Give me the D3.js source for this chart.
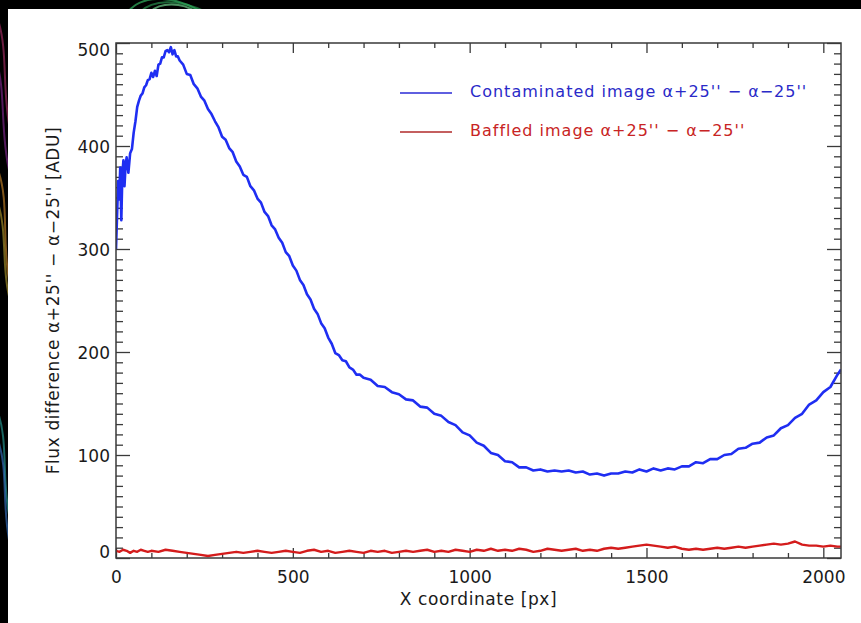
<!DOCTYPE html>
<html>
<head>
<meta charset="utf-8">
<script src="https://cdn.jsdelivr.net/npm/d3@7"></script>
<style>
  html, body { margin: 0; padding: 0; background: #000; }
  svg { display: block; }
  text { font-family: "DejaVu Sans", sans-serif; }
</style>
</head>
<body>
<svg id="chart" width="861" height="623"></svg>
<script>
// Column position along the detector row [px]
const contaminatedX = [
  0, 3, 6, 9, 12, 15, 18, 21, 24, 27, 30, 35, 40, 45, 50, 55, 60, 65, 70, 75,
  80, 85, 90, 95, 100, 105, 110, 115, 120, 125, 130, 135, 140, 145, 150, 155, 160, 165, 170, 175,
  180, 190, 200, 210, 220, 230, 240, 250, 260, 270, 280, 290, 300, 310, 320, 330, 340, 350, 360, 370,
  380, 390, 400, 410, 420, 430, 440, 450, 460, 470, 480, 490, 500, 510, 520, 530, 540, 550, 560, 570,
  580, 590, 600, 610, 620, 630, 640, 650, 660, 670, 680, 690, 700, 720, 740, 760, 780, 800, 820, 840,
  860, 880, 900, 920, 940, 960, 980, 1000, 1020, 1040, 1060, 1080, 1100, 1120, 1140, 1160, 1180, 1200, 1220, 1240,
  1260, 1280, 1300, 1320, 1340, 1360, 1380, 1400, 1420, 1440, 1460, 1480, 1500, 1520, 1540, 1560, 1580, 1600, 1620, 1640,
  1660, 1680, 1700, 1720, 1740, 1760, 1780, 1800, 1820, 1840, 1860, 1880, 1900, 1920, 1940, 1960, 1980, 2000, 2020, 2040, 2050
];
// Contaminated image, flux difference [ADU]
const contaminatedFlux = [
  300, 332, 366, 348, 379, 328, 373, 386, 361, 381, 389, 374, 393, 397, 413, 424, 438, 444, 449, 451,
  457, 459, 464, 465, 471, 467, 473, 468, 479, 480, 486, 486, 492, 493, 491, 496, 489, 493, 487, 487,
  483, 479, 470, 469, 460, 456, 448, 444, 436, 431, 424, 418, 409, 406, 398, 394, 385, 380, 372, 370,
  361, 357, 349, 345, 336, 332, 323, 319, 311, 306, 297, 293, 284, 279, 270, 265, 256, 251, 242, 237,
  228, 223, 214, 208, 199, 197, 192, 191, 185, 183, 178, 178, 175, 173, 167, 166, 161, 159, 154, 153,
  147, 146, 140, 138, 132, 129, 122, 119, 112, 109, 102, 100, 94, 93, 88, 88, 85, 86, 84, 85,
  84, 85, 83, 84, 81, 82, 80, 82, 82, 84, 83, 86, 84, 87, 85, 87, 86, 89, 89, 93,
  92, 96, 96, 100, 101, 106, 107, 111, 112, 117, 119, 126, 129, 136, 140, 149, 153, 161, 166, 178, 183
];

const baffledX = [
  0, 10, 20, 30, 40, 50, 60, 70, 80, 90, 100, 120, 140, 160, 180, 200, 220, 240, 260, 280,
  300, 320, 340, 360, 380, 400, 420, 440, 460, 480, 500, 520, 540, 560, 580, 600, 620, 640, 660, 680,
  700, 720, 740, 760, 780, 800, 820, 840, 860, 880, 900, 920, 940, 960, 980, 1000, 1020, 1040, 1060, 1080,
  1100, 1120, 1140, 1160, 1180, 1200, 1220, 1240, 1260, 1280, 1300, 1320, 1340, 1360, 1380, 1400, 1420, 1440, 1460, 1480,
  1500, 1520, 1540, 1560, 1580, 1600, 1620, 1640, 1660, 1680, 1700, 1720, 1740, 1760, 1780, 1800, 1820, 1840, 1860, 1880,
  1900, 1920, 1940, 1960, 1980, 2000, 2020, 2040, 2050
];
// Baffled image, flux difference [ADU]
const baffledFlux = [
  7, 6, 8, 7, 5, 7, 6, 8, 7, 6, 7, 6, 8, 7, 6, 5, 4, 3, 2, 3,
  4, 5, 6, 5, 6, 7, 6, 5, 6, 7, 6, 5, 7, 8, 6, 7, 5, 6, 7, 6,
  5, 7, 6, 7, 5, 6, 7, 6, 7, 8, 6, 7, 6, 8, 7, 6, 8, 7, 9, 7,
  8, 7, 9, 8, 6, 7, 9, 8, 7, 8, 9, 7, 8, 7, 9, 10, 9, 10, 11, 12,
  13, 12, 11, 10, 11, 9, 8, 9, 8, 9, 10, 9, 10, 11, 10, 11, 12, 13, 14, 13,
  14, 16, 13, 12, 12, 11, 12, 11, 11
];

const xMajorTicks = [0, 500, 1000, 1500, 2000];
const yMajorTicks = [0, 100, 200, 300, 400, 500];
const xMinorStep = 100;
const yMinorStep = 10;

const xTitle = "X coordinate [px]";
const yTitle = "Flux difference \u03b1+25'' \u2212 \u03b1\u221225'' [ADU]";
const legendLabels = [
  "Contaminated image \u03b1+25'' \u2212 \u03b1\u221225''",
  "Baffled image \u03b1+25'' \u2212 \u03b1\u221225''"
];

const svg = d3.select("#chart");
const W = 861, H = 623;

// Slide backdrop: black with a few coloured light trails at the edges
const deco = svg.append("g");
deco.append("rect").attr("width", W).attr("height", H).attr("fill", "#000");
const trails = [
  { d: "M128,12 C140,-4 170,-6 198,10", c: "#3bd16f" },
  { d: "M140,12 C152,0 178,-2 206,12", c: "#2fa85a" },
  { d: "M150,12 C160,2 182,2 196,12", c: "#7ff0a0" },
  { d: "M-2,20 C8,50 2,90 10,130", c: "#b0306a" },
  { d: "M-4,60 C6,90 0,130 9,170", c: "#8a2a9a" },
  { d: "M-2,170 C9,200 2,240 9,280", c: "#d08a2a" },
  { d: "M-3,200 C8,230 1,270 10,300", c: "#b8a030" },
  { d: "M-3,410 C9,440 1,480 10,520", c: "#2aa6a0" },
  { d: "M-2,440 C8,470 2,500 9,540", c: "#3a7ad0" }
];
deco.selectAll("path").data(trails).join("path")
  .attr("d", d => d.d).attr("fill", "none")
  .attr("stroke", d => d.c).attr("stroke-width", 2).attr("opacity", 0.6);

// White plotting panel
svg.append("rect").attr("x", 8).attr("y", 9).attr("width", W - 8).attr("height", H - 9).attr("fill", "#fff");

const x = d3.scaleLinear().domain([0, 2050]).range([116, 841]);
const y = d3.scaleLinear().domain([0, 500]).range([558, 43]);

const xMinor = d3.range(0, 2051, xMinorStep).filter(v => !xMajorTicks.includes(v));
const yMinor = d3.range(0, 501, yMinorStep).filter(v => !yMajorTicks.includes(v));

const axisColor = "#3a3a3a";
function styleAxis(g) {
  g.select(".domain").remove();
  g.selectAll(".tick line").attr("stroke", axisColor).attr("stroke-width", 1.3);
  g.selectAll("text").attr("fill", "#1a1a1a").style("font-family", "DejaVu Sans, sans-serif");
}

// Bottom axis with labels, inward ticks
svg.append("g").attr("transform", `translate(0,${y(0)})`)
  .call(d3.axisBottom(x).tickValues(xMajorTicks).tickSize(-10).tickPadding(13).tickFormat(d3.format("d")))
  .call(styleAxis)
  .call(g => g.selectAll("text").attr("font-size", 17));
svg.append("g").attr("transform", `translate(0,${y(0)})`)
  .call(d3.axisBottom(x).tickValues(xMinor).tickSize(-5).tickFormat(""))
  .call(styleAxis);
// Top axis, ticks only
svg.append("g").attr("transform", `translate(0,${y(500)})`)
  .call(d3.axisTop(x).tickValues(xMajorTicks).tickSize(-10).tickFormat(""))
  .call(styleAxis);
svg.append("g").attr("transform", `translate(0,${y(500)})`)
  .call(d3.axisTop(x).tickValues(xMinor).tickSize(-5).tickFormat(""))
  .call(styleAxis);

// Left axis with labels; end labels kept inside the frame
svg.append("g").attr("transform", `translate(${x(0)},0)`)
  .call(d3.axisLeft(y).tickValues(yMajorTicks).tickSize(-14).tickPadding(6).tickFormat(d3.format("d")))
  .call(styleAxis)
  .call(g => g.selectAll("text").attr("font-size", 17)
    .attr("y", d => d === 500 ? 7.5 : d === 0 ? -6 : 1));
svg.append("g").attr("transform", `translate(${x(0)},0)`)
  .call(d3.axisLeft(y).tickValues(yMinor).tickSize(-7).tickFormat(""))
  .call(styleAxis);
// Right axis, ticks only
svg.append("g").attr("transform", `translate(${x(2050)},0)`)
  .call(d3.axisRight(y).tickValues(yMajorTicks).tickSize(-14).tickFormat(""))
  .call(styleAxis);
svg.append("g").attr("transform", `translate(${x(2050)},0)`)
  .call(d3.axisRight(y).tickValues(yMinor).tickSize(-7).tickFormat(""))
  .call(styleAxis);

// Data curves
svg.append("clipPath").attr("id", "plot-clip")
  .append("rect").attr("x", x(0)).attr("y", y(500))
  .attr("width", x(2050) - x(0)).attr("height", y(0) - y(500));

const line = d3.line().x(d => x(d[0])).y(d => y(d[1]));
const curves = svg.append("g").attr("clip-path", "url(#plot-clip)");
curves.append("path")
  .datum(d3.zip(baffledX, baffledFlux))
  .attr("d", line).attr("fill", "none")
  .attr("stroke", "#d41c1c").attr("stroke-width", 2.4).attr("stroke-linejoin", "round");
curves.append("path")
  .datum(d3.zip(contaminatedX, contaminatedFlux))
  .attr("d", line).attr("fill", "none")
  .attr("stroke", "#1f2ef2").attr("stroke-width", 2.6).attr("stroke-linejoin", "round");

// Plot frame
svg.append("rect")
  .attr("x", x(0)).attr("y", y(500))
  .attr("width", x(2050) - x(0)).attr("height", y(0) - y(500))
  .attr("fill", "none").attr("stroke", axisColor).attr("stroke-width", 1.5);

// Axis titles
svg.append("text")
  .attr("x", (x(0) + x(2050)) / 2).attr("y", 605)
  .attr("text-anchor", "middle").attr("font-size", 17)
  .attr("letter-spacing", 0.6).attr("fill", "#1a1a1a")
  .text(xTitle);
svg.append("text")
  .attr("transform", `translate(59,${(y(0) + y(500)) / 2}) rotate(-90)`)
  .attr("text-anchor", "middle").attr("font-size", 17)
  .attr("letter-spacing", 0.6).attr("fill", "#1a1a1a")
  .text(yTitle);

// Legend
const legendItems = [
  { label: legendLabels[0], line: "#2a2ad6", text: "#2a2ac8", y: 93 },
  { label: legendLabels[1], line: "#b02a2a", text: "#c82424", y: 132 }
];
const legend = svg.append("g");
legend.selectAll("line").data(legendItems).join("line")
  .attr("x1", 400).attr("x2", 452)
  .attr("y1", d => d.y).attr("y2", d => d.y)
  .attr("stroke", d => d.line).attr("stroke-width", 1.3);
legend.selectAll("text").data(legendItems).join("text")
  .attr("x", 470).attr("y", d => d.y + 3.5)
  .attr("font-size", 16).attr("letter-spacing", 1)
  .attr("fill", d => d.text)
  .text(d => d.label);
</script>
</body>
</html>
